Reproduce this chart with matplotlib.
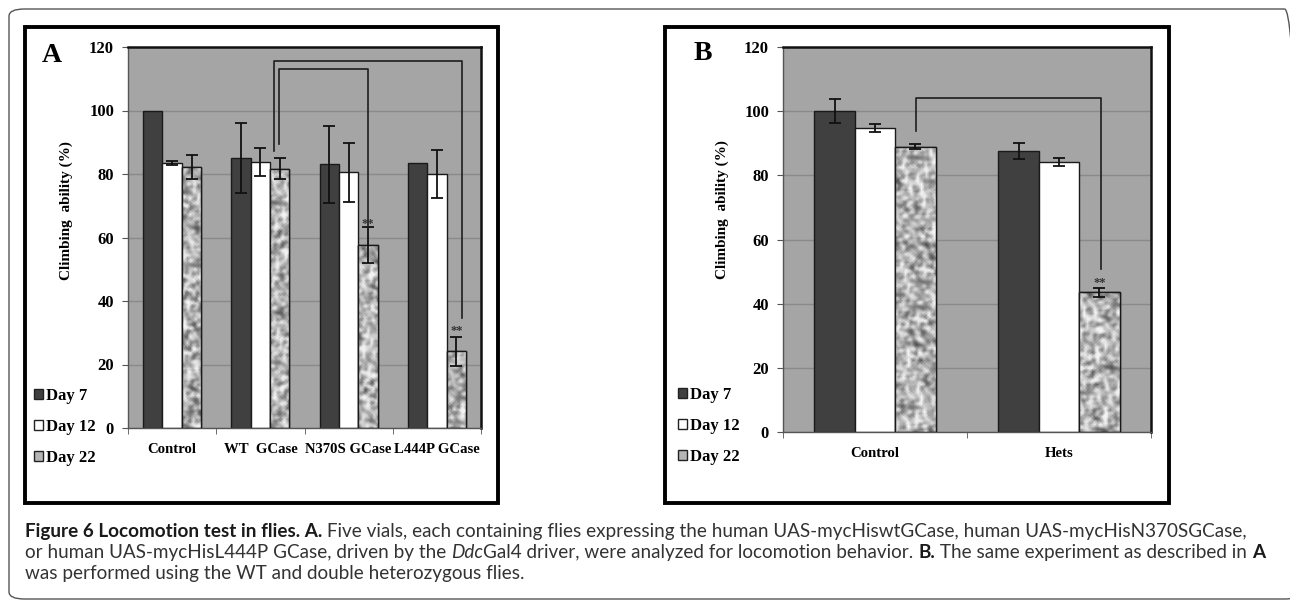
import matplotlib
matplotlib.use("Agg")
import matplotlib.pyplot as plt
import numpy as np
from matplotlib.patches import Rectangle, FancyBboxPatch, Patch
from matplotlib import font_manager

# ---- data ----
days = ["Day 7", "Day 12", "Day 22"]

groups_a = ["Control", "WT  GCase", "N370S GCase", "L444P GCase"]
day7_a = [100.0, 85.1, 83.0, 83.5]
day12_a = [83.5, 83.8, 80.5, 80.1]
day22_a = [82.2, 81.7, 57.7, 24.1]
err7_a = [0.0, 11.0, 12.0, 0.0]
err12_a = [0.7, 4.4, 9.2, 7.6]
err22_a = [3.9, 3.2, 5.6, 4.6]

groups_b = ["Control", "Hets"]
day7_b = [100.0, 87.5]
day12_b = [94.7, 84.2]
day22_b = [88.9, 43.5]
err7_b = [3.8, 2.5]
err12_b = [1.3, 1.3]
err22_b = [0.8, 1.5]

SERIF = "Liberation Serif"
BG = "#a5a5a5"
DARK = "#404040"
BAR_W = 0.22


def mottle(h, w, salt):
    # deterministic hash noise, smoothed and upsampled, used as a bar texture
    yy, xx = np.mgrid[0:h, 0:w].astype(np.int64)
    v = (xx * 73856093 + yy * 19349663 + salt * 83492791) % 1000003
    v = ((v * v) % 1000003) / 1000003.0
    for _ in range(2):
        v = (v + np.roll(v, 1, 0) + np.roll(v, -1, 0)
             + np.roll(v, 1, 1) + np.roll(v, -1, 1)) / 5.0
    z = (v - v.mean()) / v.std()
    return np.clip(0.70 + 0.13 * z, 0.25, 0.95)


def draw_panel(ax, groups, vals, errs, salt):
    x = np.arange(len(groups))
    ax.set_facecolor(BG)
    ax.yaxis.grid(True, color="#8a8a8a", lw=1.0)
    ax.set_axisbelow(True)

    colors = [DARK, "white", "#b5b5b5"]
    bars_all = []
    for i, (v, e) in enumerate(zip(vals, errs)):
        xs = x + (i - 1) * BAR_W
        bars = ax.bar(xs, v, BAR_W, color=colors[i], edgecolor="#1a1a1a",
                      lw=1.0, zorder=2, label=days[i])
        bars_all.append(bars)
        e = np.asarray(e)
        m = e > 0
        ax.errorbar(xs[m], np.asarray(v)[m], yerr=e[m], fmt="none",
                    ecolor="#111111", elinewidth=1.3, capsize=4,
                    capthick=1.3, zorder=4)

    # texture for the Day 22 bars
    tex = mottle(240, 230, salt)
    for b in bars_all[2]:
        im = ax.imshow(tex, extent=(-0.5, len(groups) - 0.5, 0, 120),
                       cmap="gray", vmin=0, vmax=1, aspect="auto",
                       interpolation="bilinear", zorder=2.5)
        im.set_clip_path(b)
        ax.add_patch(Rectangle(b.get_xy(), b.get_width(), b.get_height(),
                               fill=False, ec="#1a1a1a", lw=1.0, zorder=3))
    ax.set_xlim(-0.5, len(groups) - 0.5)
    ax.set_ylim(0, 120)
    ax.set_yticks(range(0, 121, 20))

    ax.set_xticks(x)
    ax.set_xticklabels(groups, fontfamily=SERIF, fontweight="bold",
                       fontsize=10.6)
    ax.set_xticks(np.arange(len(groups) + 1) - 0.5, minor=True)
    ax.tick_params(axis="x", which="major", length=0, pad=11)
    ax.tick_params(axis="x", which="minor", length=4, color="#555555")
    ax.tick_params(axis="y", length=4, color="#555555", pad=6)
    for t in ax.get_yticklabels():
        t.set_fontfamily(SERIF)
        t.set_fontweight("bold")
        t.set_fontsize(12)
    for s in ["top", "right"]:
        ax.spines[s].set_color("#111111")
        ax.spines[s].set_linewidth(1.8)
    for s in ["left", "bottom"]:
        ax.spines[s].set_color("#555555")
        ax.spines[s].set_linewidth(1.0)
    ax.set_ylabel("Climbing  ability (%)", fontfamily=SERIF,
                  fontweight="bold", fontsize=11)
    return bars_all


fig = plt.figure(figsize=(12.9, 6.02), dpi=100)
W, H = 1290.0, 602.0


def fx(px):
    return px / W


def fy(py):
    return 1 - py / H


# outer rounded frame
fig.patches.append(FancyBboxPatch((fx(9), fy(599)), fx(1300) - fx(9),
                                  fy(9) - fy(599),
                                  boxstyle="round,pad=0,rounding_size=0.012",
                                  transform=fig.transFigure, fill=False,
                                  ec="#555555", lw=1.0))
# panel frames
for x0, x1 in [(25, 498), (665, 1169)]:
    fig.patches.append(Rectangle((fx(x0), fy(503)), fx(x1) - fx(x0),
                                 fy(27) - fy(503), transform=fig.transFigure,
                                 fill=False, ec="black", lw=2.8))

ax_a = fig.add_axes([fx(128), fy(428), fx(481) - fx(128), fy(47) - fy(428)])
ax_b = fig.add_axes([fx(783), fy(432), fx(1151) - fx(783), fy(47) - fy(432)])

draw_panel(ax_a, groups_a, [day7_a, day12_a, day22_a],
           [err7_a, err12_a, err22_a], 1)
draw_panel(ax_b, groups_b, [day7_b, day12_b, day22_b],
           [err7_b, err12_b, err22_b], 2)
ax_a.yaxis.set_label_coords(-0.155, 0.572)
ax_b.yaxis.set_label_coords(-0.148, 0.579)

# significance brackets
lk = dict(color="#1e1e1e", lw=1.2, zorder=5, clip_on=False)
ax_a.plot([1.154, 1.154, 3.285, 3.285], [87.2, 115.6, 115.6, 34.6], **lk)
ax_a.plot([1.211, 1.211, 2.22, 2.22], [89.4, 113.1, 113.1, 63.6], **lk)
ax_b.plot([0.221, 0.221, 1.227, 1.227], [93.8, 104.0, 104.0, 50.9], **lk)
sk = dict(ha="center", va="center", fontsize=9, color="#333333",
          fontfamily=SERIF, fontweight="bold", zorder=6)
ax_a.text(2.22, 64.3, "**", **sk)
ax_a.text(3.22, 30.7, "**", **sk)
ax_b.text(1.22, 46.3, "**", **sk)

# panel letters
fig.text(fx(52), fy(55), "A", fontfamily=SERIF, fontweight="bold",
         fontsize=20, ha="center", va="center")
fig.text(fx(703), fy(53), "B", fontfamily=SERIF, fontweight="bold",
         fontsize=20, ha="center", va="center")

# legends
handles = [Patch(fc=DARK, ec="#222222"), Patch(fc="white", ec="#222222"),
           Patch(fc="#b5b5b5", ec="#222222")]
for lx, ly in [(34, 388), (678, 387)]:
    fig.legend(handles, days, loc="upper left",
               bbox_to_anchor=(fx(lx), fy(ly)), frameon=False,
               prop=dict(family=SERIF, weight="bold", size=12),
               handlelength=0.55, handleheight=0.55, handletextpad=0.15,
               labelspacing=0.9, borderaxespad=0, borderpad=0)

# caption with mixed styles
names = {f.name for f in font_manager.fontManager.ttflist}
CAP = next(f for f in ["Lato", "Open Sans", "DejaVu Sans"] if f in names)
lines = [
    [("Figure 6 Locomotion test in flies. A.", "bold", "normal"),
     (" Five vials, each containing flies expressing the human UAS-mycHiswtGCase, "
      "human UAS-mycHisN370SGCase,", "normal", "normal")],
    [("or human UAS-mycHisL444P GCase, driven by the ", "normal", "normal"),
     ("Ddc", "normal", "italic"),
     ("Gal4 driver, were analyzed for locomotion behavior. ", "normal", "normal"),
     ("B.", "bold", "normal"),
     (" The same experiment as described in ", "normal", "normal"),
     ("A", "bold", "normal")],
    [("was performed using the WT and double heterozygous flies.", "normal",
      "normal")],
]
line_widths = [1243.0, 1237.0]
fig.canvas.draw()
r = fig.canvas.get_renderer()

# scale the caption so that the long lines fit the reference widths
probe = 12.0
scales = []
for runs, target in zip(lines, line_widths):
    total = 0.0
    for txt, wt, st in runs:
        t = fig.text(0, 0, txt, fontfamily=CAP, fontweight=wt, fontstyle=st,
                     fontsize=probe)
        total += t.get_window_extent(renderer=r).width
        t.remove()
    scales.append(target / total)
cap_size = probe * min(scales)

for li, runs in enumerate(lines):
    xpos = 25.0
    ypos = 537 + li * 21
    for txt, wt, st in runs:
        t = fig.text(fx(xpos), fy(ypos), txt, fontfamily=CAP, fontweight=wt,
                     fontstyle=st, fontsize=cap_size,
                     color="#1a1a1a" if wt == "bold" else "#333333",
                     va="baseline", ha="left")
        xpos += t.get_window_extent(renderer=r).width

fig.savefig("out.png", dpi=100)
